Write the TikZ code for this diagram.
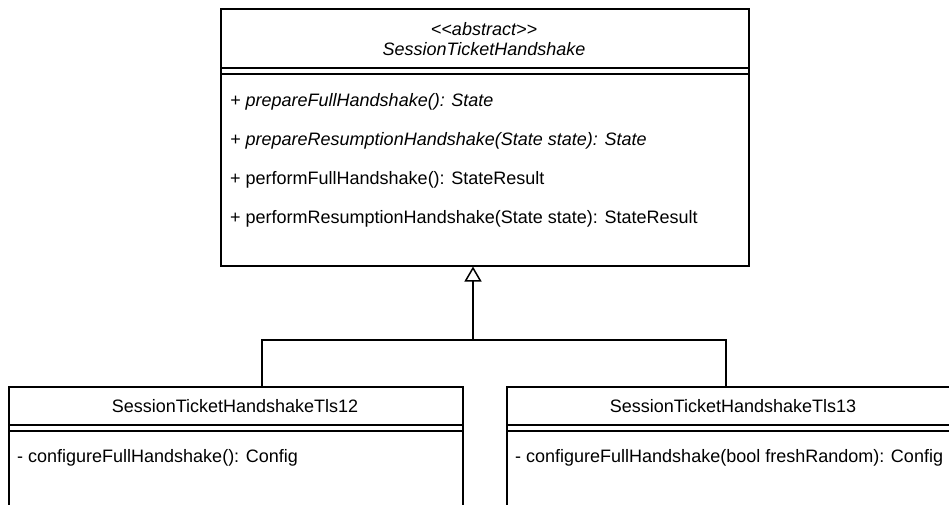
\documentclass[tikz,border=0pt]{standalone}
\usepackage{fontspec}
\setmainfont{Liberation Sans}[Ligatures=TeXOff]
\usetikzlibrary{arrows.meta}

\tikzset{
  umlbox/.style={draw=black, line width=1.5pt, rectangle, inner sep=0pt, anchor=north west, fill=white},
  sepline/.style={draw=black, line width=1.5pt},
  member/.style={anchor=west, inner sep=0pt, font=\fontsize{18}{20}\selectfont},
  title/.style={anchor=center, inner sep=0pt, font=\fontsize{18}{20}\selectfont},
  link/.style={draw=black, line width=1.5pt},
  inherit/.style={link, -{Triangle[open, length=15pt, width=17pt]}},
}

\begin{document}
\begin{tikzpicture}[x=1pt, y=-1pt]
  \clip (0,0) rectangle (949,504);
  \fill[white] (0,0) rectangle (949,504);

  % abstract base class
  \node[umlbox, minimum width=528pt, minimum height=257pt] (abs) at (220,8) {};
  \draw[sepline] (220,68) -- (748,68);
  \draw[sepline] (220,74) -- (748,74);
  \node[title] (absster) at (484,29) {\itshape <{}<abstract>{}>};
  \node[title] (absname) at (484,49) {\itshape SessionTicketHandshake};
  \node[member] (m1) at (230,102) {\itshape + prepareFullHandshake(): State};
  \node[member] (m2) at (230,141) {\itshape + prepareResumptionHandshake(State state): State};
  \node[member] (m3) at (230,180) {+ performFullHandshake(): StateResult};
  \node[member] (m4) at (230,219) {+ performResumptionHandshake(State state): StateResult};

  % TLS 1.2 subclass
  \node[umlbox, minimum width=454pt, minimum height=160pt] (t12) at (8,386) {};
  \draw[sepline] (8,425) -- (462,425);
  \draw[sepline] (8,431) -- (462,431);
  \node[title] (t12name) at (235,406) {SessionTicketHandshakeTls12};
  \node[member] (t12m) at (17,458) {- configureFullHandshake(): Config};

  % TLS 1.3 subclass
  \node[umlbox, minimum width=454pt, minimum height=160pt] (t13) at (506,386) {};
  \draw[sepline] (506,425) -- (960,425);
  \draw[sepline] (506,431) -- (960,431);
  \node[title] (t13name) at (733,406) {SessionTicketHandshakeTls13};
  \node[member] (t13m) at (515,458) {- configureFullHandshake(bool freshRandom): Config};

  % generalisation connectors
  \coordinate (lj) at (262,0);
  \coordinate (rj) at (726,0);
  \coordinate (j) at (473,340);
  \draw[link] (t12.north -| lj) |- (j) -| (t13.north -| rj);
  \draw[inherit] (j) -- (abs.south -| j);
\end{tikzpicture}
\end{document}
